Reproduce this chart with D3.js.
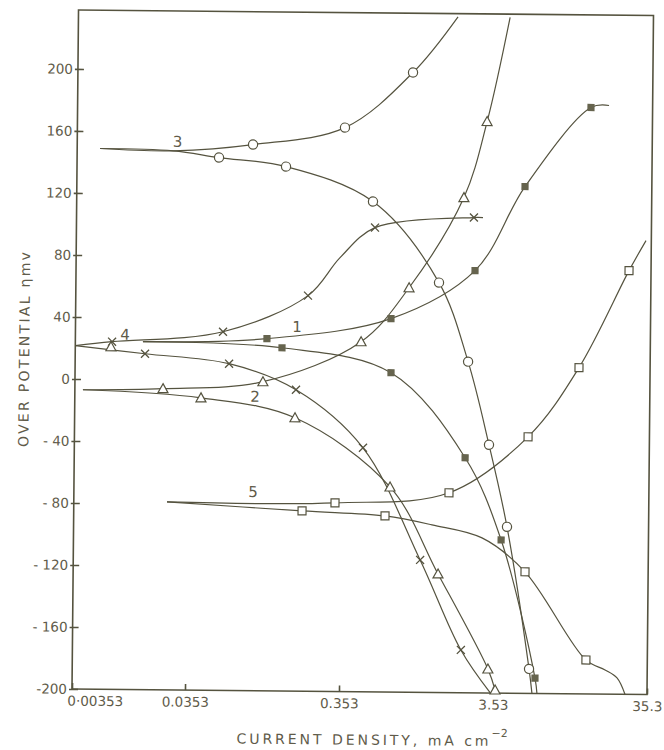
<!DOCTYPE html>
<meta charset="utf-8">
<style>
  body { margin: 0; background: #fff; }
  text { font-family: "DejaVu Sans", sans-serif; fill: #5f5b4a; }
  .axis path, .axis line { stroke: #55533f; stroke-width: 1.6; }
  .curve { fill: none; stroke: #55533f; stroke-width: 1.2; }
</style>
<body>
<svg width="664" height="750"></svg>

<script src="https://cdn.jsdelivr.net/npm/d3@7/dist/d3.min.js"></script>
<script>

// tick values and labels
var xTicks = [0.00353, 0.0353, 0.353, 3.53, 35.3];
var xTickLabels = ["0·00353", "0.0353", "0.353", "3.53", "35.3"];
var yTicks = [200, 160, 120, 80, 40, 0, -40, -80, -120, -160, -200];
var yTickLabels = ["200", "160", "120", "80", "40", "0", "- 40", "- 80", "- 120", "- 160", "-200"];

// curves: [current density mA/cm2, overpotential mV, marker drawn]
var curve1Anodic = [[0.0140, 24.5, 0], [0.1143, 27.2, 1], [0.728, 40.9, 1], [2.54, 72.4, 1],
                    [5.30, 126.9, 1], [14.05, 178.3, 1], [18.4, 179.7, 0]];
var curve1Cathodic = [[0.0140, 24.5, 0], [0.1433, 21.4, 1], [0.734, 6.0, 1], [2.25, -48.4, 1],
                      [3.90, -101.2, 1], [6.60, -190.1, 1], [6.81, -200, 0]];

var curve2Anodic = [[0.00416, -6.9, 0], [0.02126, -5.7, 1], [0.1083, -0.6, 1], [0.467, 25.8, 1],
                    [0.950, 60.9, 1], [2.13, 119.4, 1], [2.98, 168.6, 1], [4.14, 236, 0]];
var curve2Cathodic = [[0.00416, -6.9, 0], [0.0430, -11.4, 1], [0.1758, -23.7, 1], [0.735, -67.7, 1],
                      [1.526, -123.5, 1], [3.26, -184.5, 1], [3.64, -198, 1]];

var curve3Anodic = [[0.00562, 148.8, 0], [0.025, 147.8, 0], [0.0903, 152.3, 1], [0.356, 163.8, 1],
                    [0.977, 199.8, 1], [1.90, 236, 0]];
var curve3Cathodic = [[0.00562, 148.8, 0], [0.025, 147.8, 0], [0.0544, 143.7, 1], [0.1483, 138.3, 1],
                      [0.547, 116.3, 1], [1.485, 64.4, 1], [2.32, 13.6, 1], [3.21, -39.9, 1],
                      [4.25, -92.7, 1], [6.03, -184.2, 1], [6.32, -200, 0]];

var curve4Anodic = [[0.00353, 21.5, 0], [0.00746, 24.3, 1], [0.0592, 31.4, 1], [0.2098, 55.2, 1],
                    [0.337, 79.9, 0], [0.566, 99.5, 1], [2.48, 106.6, 1], [2.84, 106.6, 0]];
var curve4Cathodic = [[0.00353, 21.5, 0], [0.01464, 16.7, 1], [0.0651, 10.8, 1], [0.1777, -5.6, 1],
                      [0.488, -42.6, 1], [1.165, -114.6, 1], [2.17, -172.4, 1], [3.4, -200, 0]];
var strayTriangle = [[0.0073, 21.0]];

var curve5Anodic = [[0.02359, -78.7, 0], [0.3237, -78.3, 1], [1.777, -71.1, 1], [5.75, -34.5, 1],
                    [12.19, 10.4, 1], [25.4, 73.3, 1], [32.6, 92.8, 0]];
var curve5Cathodic = [[0.02359, -78.7, 0], [0.198, -83.7, 1], [0.685, -86.4, 1], [1.385, -91.9, 0],
                      [2.93, -100, 0], [5.60, -121.6, 1], [14.1, -178.1, 1], [18.8, -184.4, 0],
                      [22.5, -189.5, 0], [25.4, -200, 0]];

var curveLabels = ["1", "2", "3", "4", "5"];
var curveLabelPos = [[0.179, 35.1], [0.0965, -10.3], [0.0273, 153.8], [0.0097, 28.9], [0.0949, -71.7]];

var series = [
    {pts: curve1Anodic, mark: "fsq"}, {pts: curve1Cathodic, mark: "fsq"},
    {pts: curve2Anodic, mark: "tri"}, {pts: curve2Cathodic, mark: "tri"},
    {pts: curve3Anodic, mark: "circ"}, {pts: curve3Cathodic, mark: "circ"},
    {pts: curve4Anodic, mark: "cross"}, {pts: curve4Cathodic, mark: "cross"},
    {pts: curve5Anodic, mark: "osq"}, {pts: curve5Cathodic, mark: "osq"}
];

var ink = "#55533f";

var svg = d3.select("svg");

// the scanned figure is turned a little clockwise
var g = svg.append("g").attr("transform", "rotate(0.55,72,689)");

// first decade is drawn shorter than the others
var x = d3.scaleLog().domain([0.00353, 0.0353, 35.3]).range([72, 185, 647]);
var y = d3.scaleLinear().domain([-200, 238]).range([689, 10]);

// frame
g.append("rect")
    .attr("x", 72).attr("y", 10)
    .attr("width", 647 - 72).attr("height", 689 - 10)
    .attr("fill", "none").attr("stroke", ink).attr("stroke-width", 1.6);

// y axis
var yAxis = g.append("g").attr("class", "axis")
    .attr("transform", "translate(72,0)")
    .call(d3.axisLeft(y).tickValues(yTicks)
          .tickFormat(function(d, i) { return yTickLabels[i]; })
          .tickSizeInner(-6).tickSizeOuter(0).tickPadding(5));
yAxis.select(".domain").remove();
yAxis.selectAll(".tick line").attr("x1", -3);
yAxis.selectAll(".tick text").style("font-size", "13.5px").attr("fill", "#5f5b4a");

// x axis
var xAxis = g.append("g").attr("class", "axis")
    .attr("transform", "translate(0,689)")
    .call(d3.axisBottom(x).tickValues(xTicks)
          .tickFormat(function(d, i) { return xTickLabels[i]; })
          .tickSizeInner(-6).tickSizeOuter(0).tickPadding(7));
xAxis.select(".domain").remove();
xAxis.selectAll(".tick text").style("font-size", "13.5px").attr("fill", "#5f5b4a");
xAxis.select(".tick text").attr("text-anchor", "start").attr("x", -5);

// axis titles
g.append("text")
    .attr("transform", "translate(26,350) rotate(-90)")
    .attr("text-anchor", "middle")
    .attr("textLength", 195).attr("lengthAdjust", "spacing")
    .style("font-size", "14px")
    .text("OVER POTENTIAL ηmv");

var xt = g.append("text")
    .attr("x", 237).attr("y", 742)
    .style("font-size", "14px");
xt.append("tspan").attr("textLength", 252).attr("lengthAdjust", "spacing")
    .text("CURRENT DENSITY, mA cm");
xt.append("tspan").attr("dy", -9).style("font-size", "11px").text("−2");

// curves
var line = d3.line()
    .x(function(d) { return x(d[0]); })
    .y(function(d) { return y(d[1]); })
    .curve(d3.curveCatmullRom.alpha(0.5));

g.selectAll(".curve").data(series).enter().append("path")
    .attr("class", "curve")
    .attr("d", function(s) { return line(s.pts); });

// markers
function drawMark(type, px, py) {
    if (type == "fsq") {
        g.append("rect").attr("x", px - 3.6).attr("y", py - 3.6).attr("width", 7.2).attr("height", 7.2)
            .attr("fill", "#66644e");
    } else if (type == "osq") {
        g.append("rect").attr("x", px - 4).attr("y", py - 4).attr("width", 8).attr("height", 8)
            .attr("fill", "#fff").attr("stroke", ink).attr("stroke-width", 1.2);
    } else if (type == "circ") {
        g.append("circle").attr("cx", px).attr("cy", py).attr("r", 4.6)
            .attr("fill", "#fff").attr("stroke", ink).attr("stroke-width", 1.2);
    } else if (type == "tri") {
        g.append("path").attr("d", "M" + px + "," + (py - 5) + "L" + (px + 5) + "," + (py + 4) + "L" + (px - 5) + "," + (py + 4) + "Z")
            .attr("fill", "#fff").attr("stroke", ink).attr("stroke-width", 1.2);
    } else if (type == "cross") {
        g.append("path").attr("d", "M" + (px - 4) + "," + (py - 4) + "L" + (px + 4) + "," + (py + 4) +
                              "M" + (px - 4) + "," + (py + 4) + "L" + (px + 4) + "," + (py - 4))
            .attr("fill", "none").attr("stroke", ink).attr("stroke-width", 1.3);
    }
}

series.forEach(function(s) {
    s.pts.forEach(function(d) {
        if (d[2]) drawMark(s.mark, x(d[0]), y(d[1]));
    });
});
strayTriangle.forEach(function(d) { drawMark("tri", x(d[0]), y(d[1])); });

// curve numbers
curveLabels.forEach(function(t, i) {
    g.append("text")
        .attr("x", x(curveLabelPos[i][0])).attr("y", y(curveLabelPos[i][1]))
        .attr("text-anchor", "middle").attr("dy", "0.35em")
        .style("font-size", "15px")
        .text(t);
});

</script>
</body>
